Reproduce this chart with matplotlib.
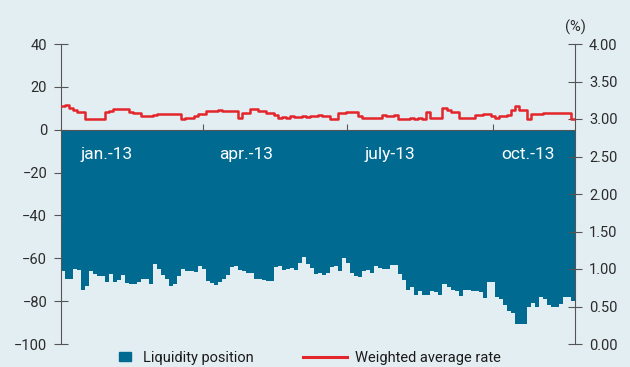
import numpy as np
import pandas as pd
import matplotlib
matplotlib.use("Agg")
import matplotlib.pyplot as plt
import matplotlib.dates as mdates
from matplotlib.patches import Rectangle
from matplotlib.lines import Line2D

plt.rcParams['font.family'] = ['Roboto', 'DejaVu Sans']

# liquidity position (left axis), sampled every ~2.5 days
liquidity = [
    -66, -69.5, -69.5, -65, -65.4, -74.6, -73, -66, -67.4, -68.2,
    -68.2, -71, -67.2, -71, -70, -67.7, -71.7, -71.8, -71.8, -71,
    -69.5, -69.5, -72.2, -62.8, -65, -67.9, -69.5, -73, -72.2, -68.2,
    -65, -65.9, -65.9, -66.6, -63.5, -65, -70.5, -71.7, -72.3, -71,
    -69.5, -67.7, -64, -63.5, -65.4, -65.9, -66.8, -66.8, -69.5, -69.8,
    -70, -70.5, -70.5, -64, -63.5, -65.4, -65, -64.5, -65.4, -62.2,
    -59.4, -62.6, -64.5, -67.2, -66.8, -67.7, -67, -64, -63.5, -65.9,
    -60, -62.2, -66.8, -68.2, -68.6, -66, -65.4, -66.8, -63.5, -64.5,
    -64.8, -65, -63, -63.1, -67.2, -70, -74.6, -73.2, -77, -75.1,
    -77, -77, -75.1, -75.6, -77, -71.8, -73.2, -74.6, -75.1, -77.4,
    -75, -74.6, -75.1, -75.1, -75.6, -78.3, -71, -71, -77.9, -78.8,
    -81.6, -84.8, -85.7, -90.8, -90.8, -90.8, -82.5, -80.7, -82.9, -77.9,
    -78.8, -81.6, -82.5, -82.9, -81.1, -77.9, -77.9, -80,
]

# weighted average rate in % (right axis)
rate = [
    3.17, 3.19, 3.147, 3.124, 3.10, 3.10, 3.004, 3.004, 3.004, 3.004,
    3.004, 3.093, 3.11, 3.137, 3.137, 3.137, 3.137, 3.10, 3.08, 3.08,
    3.036, 3.036, 3.036, 3.05, 3.067, 3.067, 3.067, 3.067, 3.067, 3.067,
    3.00, 3.02, 3.02, 3.04, 3.067, 3.067, 3.11, 3.11, 3.11, 3.124,
    3.11, 3.11, 3.11, 3.11, 3.013, 3.08, 3.08, 3.133, 3.133, 3.11,
    3.11, 3.08, 3.08, 3.05, 3.013, 3.03, 3.02, 3.035, 3.03, 3.025,
    3.035, 3.03, 3.035, 3.04, 3.058, 3.036, 3.036, 3.004, 3.004, 3.08,
    3.08, 3.093, 3.093, 3.093, 3.036, 3.02, 3.02, 3.02, 3.02, 3.02,
    3.058, 3.036, 3.036, 3.058, 3.004, 3.004, 3.004, 3.02, 3.004, 3.015,
    3.004, 3.10, 3.02, 3.02, 3.02, 3.147, 3.12, 3.10, 3.10, 3.02,
    3.02, 3.02, 3.02, 3.058, 3.058, 3.067, 3.067, 3.036, 3.02, 3.04,
    3.04, 3.06, 3.124, 3.17, 3.124, 3.124, 3.004, 3.067, 3.067, 3.067,
    3.08, 3.08, 3.08, 3.08, 3.08, 3.08, 3.08, 3.00,
]

month_labels = ['jan.-13', 'apr.-13', 'july-13', 'oct.-13']
label_dates = ['2013-01-30', '2013-04-28', '2013-07-28', '2013-10-23']
tick_dates = ['2013-04-01', '2013-07-01', '2013-10-01']

bg = '#e3eef3'
blue = '#006a91'
red = '#e3262b'
grey = '#555555'
txt = '#2b2b2b'

edges = mdates.date2num(pd.date_range('2013-01-01', '2013-11-22', periods=len(liquidity) + 1))
step = edges[1] - edges[0]

fig = plt.figure(figsize=(6.3, 3.67), dpi=100, facecolor=bg)
ax = fig.add_axes([61 / 630, 1 - 344 / 367, 514 / 630, 300 / 367])
ax.set_facecolor(bg)

bars = ax.bar(edges[:-1], liquidity, width=step, align='edge', color=blue, linewidth=0, zorder=2)
ax.set_ylim(-100, 40)
ax.set_yticks(range(-100, 41, 20))
ax.set_xlim(edges[0], edges[-1])

ax.spines['top'].set_visible(False)
ax.spines['right'].set_visible(False)
ax.spines['left'].set_color(grey)
ax.spines['bottom'].set_position(('data', 0))
ax.spines['bottom'].set_color(grey)
ax.spines['bottom'].set_linewidth(0.8)
ax.spines['bottom'].set_zorder(3)
ax.set_xticks(mdates.date2num(pd.to_datetime(tick_dates)))
ax.tick_params(axis='x', direction='inout', length=9, color=grey, labelbottom=False)
ax.tick_params(axis='y', direction='inout', length=10, color=grey, labelsize=10.5,
               labelcolor=txt, pad=5)

for lab, d in zip(month_labels, label_dates):
    ax.text(mdates.date2num(pd.Timestamp(d)), -11.5, lab, color='white', fontsize=12.5,
            ha='center', va='center', zorder=4)

ax2 = ax.twinx()
ax2.patch.set_visible(False)
line, = ax2.plot(np.append(edges[:-1], edges[-1]), rate + rate[-1:], drawstyle='steps-post',
                 color=red, linewidth=1.8, zorder=5)
ax2.set_ylim(0, 4)
ax2.set_yticks(np.arange(0, 4.01, 0.5))
ax2.set_yticklabels([f'{v:.2f}' for v in np.arange(0, 4.01, 0.5)])
for s in ['top', 'left', 'bottom']:
    ax2.spines[s].set_visible(False)
ax2.spines['right'].set_color(grey)
ax2.tick_params(axis='y', direction='inout', length=10, color=grey, labelsize=10.5,
                labelcolor=txt, pad=5)

fig.text(575 / 630, 1 - 27 / 367, '(%)', ha='center', va='center', fontsize=10.5, color=txt)

# two single-entry legends along the bottom
leg1 = fig.legend([Rectangle((0, 0), 1, 1, color=blue)], ['Liquidity position'],
                  loc='center left', bbox_to_anchor=(119 / 630, 1 - 358 / 367),
                  frameon=False, fontsize=10.5, handlelength=0.85, handleheight=0.6,
                  handletextpad=0.8, borderpad=0, borderaxespad=0)
leg2 = fig.legend([Line2D([], [], color=red, linewidth=2.2)], ['Weighted average rate'],
                  loc='center left', bbox_to_anchor=(303 / 630, 1 - 358 / 367),
                  frameon=False, fontsize=10.5, handlelength=3.0,
                  handletextpad=0.55, borderpad=0, borderaxespad=0)
for lg in (leg1, leg2):
    for t in lg.get_texts():
        t.set_color('#1a1a1a')

fig.savefig('out.png', dpi=100, facecolor=bg)
